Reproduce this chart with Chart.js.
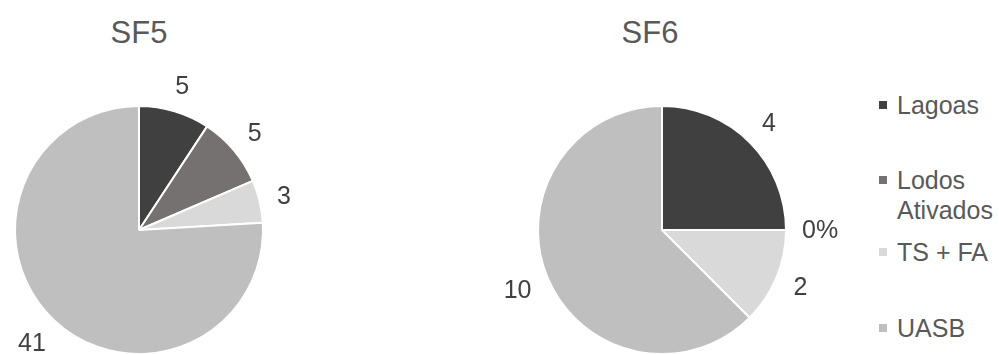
<!DOCTYPE html>
<html>
<head>
<meta charset="utf-8">
<script src="https://cdn.jsdelivr.net/npm/chart.js@4"></script>
<style>
  html, body { margin: 0; padding: 0; background: #fff; overflow: hidden; }
  body { width: 999px; height: 354px; position: relative; font-family: "Liberation Sans", Arial, sans-serif; }
  .box { position: absolute; top: 0; height: 360px; }
  .title { position: absolute; top: 15px; width: 120px; text-align: center; font-size: 31px; line-height: 36px; color: #595959; }
  #legend { position: absolute; left: 879px; top: 0; font-size: 25px; color: #595959; }
  .item { position: absolute; left: 0; white-space: nowrap; line-height: 30px; }
  .item span.sw { position: absolute; left: 0; top: 11px; width: 8px; height: 8px; }
  .item span.tx { position: absolute; left: 18px; top: 0; }
</style>
</head>
<body>
<div class="title" style="left:79px">SF5</div>
<div class="title" style="left:590px">SF6</div>
<div class="box" style="left:0; width:300px"><canvas id="sf5"></canvas></div>
<div class="box" style="left:500px; width:360px"><canvas id="sf6"></canvas></div>
<div id="legend"></div>
<script>
const categories = ['Lagoas', 'Lodos Ativados', 'TS + FA', 'UASB'];
const sf5Values = [5, 5, 3, 41];
const sf6Values = [4, 0, 2, 10];
const colors = ['#404040', '#767171', '#d9d9d9', '#bfbfbf'];

// value labels outside the slices
const outsideLabels = {
    id: 'outsideLabels',
    afterDatasetsDraw(chart) {
        const ctx = chart.ctx;
        const values = chart.data.datasets[0].data;
        ctx.save();
        ctx.font = '25px "Liberation Sans", Arial, sans-serif';
        ctx.fillStyle = '#404040';
        ctx.textAlign = 'center';
        ctx.textBaseline = 'middle';
        chart.getDatasetMeta(0).data.forEach((arc, i) => {
            const p = arc.getProps(['x', 'y', 'startAngle', 'endAngle', 'outerRadius'], true);
            const a = (p.startAngle + p.endAngle) / 2;
            const text = values[i] === 0 ? '0%' : String(values[i]);
            const w = ctx.measureText(text).width;
            const h = 18;
            const d = p.outerRadius + 16 + Math.abs(Math.cos(a)) * w / 2 + Math.abs(Math.sin(a)) * h / 2;
            ctx.fillText(text, p.x + Math.cos(a) * d, p.y + Math.sin(a) * d + 1);
        });
        ctx.restore();
    }
};

function makePie(id, values, padding) {
    return new Chart(document.getElementById(id).getContext('2d'), {
        type: 'pie',
        data: {
            labels: categories,
            datasets: [{
                data: values,
                backgroundColor: colors,
                borderColor: '#ffffff',
                borderWidth: 2
            }]
        },
        options: {
            responsive: true,
            maintainAspectRatio: false,
            animation: false,
            layout: { padding: padding },
            plugins: { legend: { display: false }, tooltip: { enabled: false } }
        },
        plugins: [outsideLabels]
    });
}

const sf5Chart = makePie('sf5', sf5Values, { left: 14, right: 36, top: 105, bottom: 5 });
const sf6Chart = makePie('sf6', sf6Values, { left: 37, right: 73, top: 105, bottom: 5 });

// legend
const legendTops = [90, 165, 237, 313];
const legend = document.getElementById('legend');
categories.forEach((name, i) => {
    const item = document.createElement('div');
    item.className = 'item';
    item.style.top = legendTops[i] + 'px';
    const sw = document.createElement('span');
    sw.className = 'sw';
    sw.style.background = colors[i];
    const tx = document.createElement('span');
    tx.className = 'tx';
    tx.innerHTML = name === 'Lodos Ativados' ? 'Lodos<br>Ativados' : name;
    item.appendChild(sw);
    item.appendChild(tx);
    legend.appendChild(item);
});
</script>
</body>
</html>
